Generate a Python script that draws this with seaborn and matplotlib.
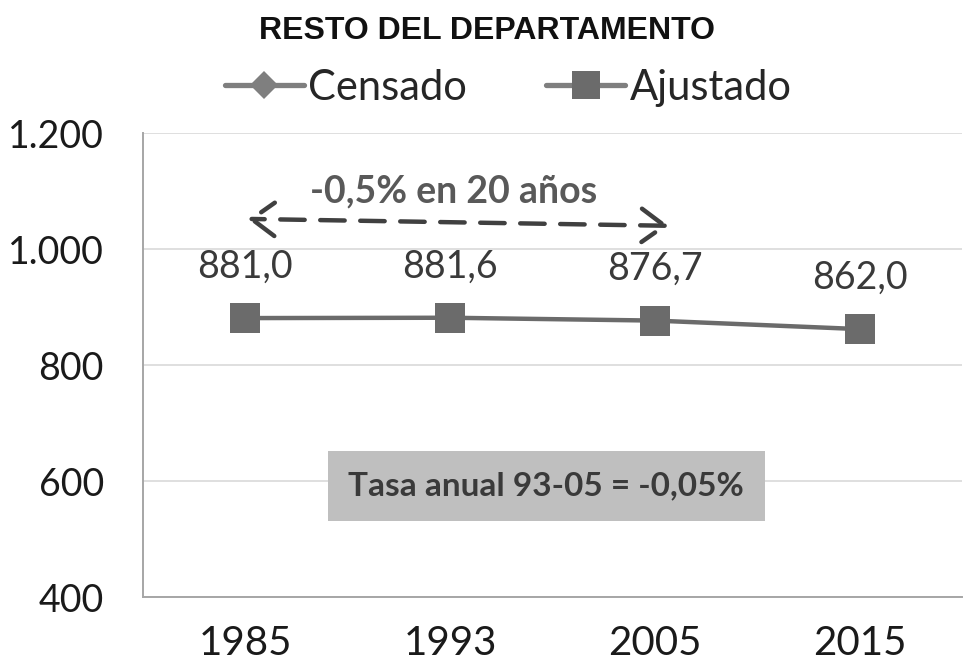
import matplotlib
matplotlib.use("Agg")
import matplotlib.pyplot as plt
import matplotlib.ticker as mticker
from matplotlib.lines import Line2D
import seaborn as sns
import pandas as pd

years = ["1985", "1993", "2005", "2015"]
ajustado = [881.0, 881.6, 876.7, 862.0]
value_labels = ["881,0", "881,6", "876,7", "862,0"]
y_ticks = [400, 600, 800, 1000, 1200]

sns.set_style("white")
plt.rcParams["font.family"] = ["Lato", "DejaVu Sans"]

data = pd.DataFrame({"pos": range(len(years)), "Ajustado": ajustado})

fig = plt.figure(figsize=(9.64, 6.65), dpi=100)
ax = fig.add_axes([0.148, 0.102, 0.85, 0.698])

line_col = "#6b6b6b"
sns.lineplot(data=data, x="pos", y="Ajustado", ax=ax, color=line_col,
             linewidth=3.2, marker="s", markersize=22, markeredgewidth=0,
             markerfacecolor=line_col)

for i, v in enumerate(ajustado):
    ax.annotate(value_labels[i], (i, v), xytext=(0, 37), textcoords="offset points",
                ha="center", va="center", fontsize=27, color="#3a3a3a")

ax.set_xlim(-0.5, 3.5)
ax.set_ylim(400, 1200)
ax.set_yticks(y_ticks)
ax.yaxis.set_major_formatter(mticker.FuncFormatter(lambda v, p: f"{int(v):,}".replace(",", ".")))
ax.set_xticks([-0.5, 0.5, 1.5, 2.5, 3.5])
ax.set_xticklabels([])
ax.set_xticks(range(len(years)), minor=True)
ax.set_xticklabels(years, minor=True)
ax.tick_params(axis="x", which="major", direction="out", length=7, width=1.2, color="#a6a6a6")
ax.tick_params(axis="x", which="minor", length=0, pad=20, labelsize=29, labelcolor="#1a1a1a")
ax.tick_params(axis="y", direction="out", length=8, width=1.2, color="#a6a6a6",
               labelsize=27, labelcolor="#1a1a1a", pad=20)
ax.set_xlabel("")
ax.set_ylabel("")
ax.grid(axis="y", color="#d9d9d9", linewidth=1.2)
ax.set_axisbelow(True)
sns.despine(ax=ax)
for s in ["left", "bottom"]:
    ax.spines[s].set_color("#a6a6a6")
    ax.spines[s].set_linewidth(1.4)

# dashed double arrow
ax.annotate("", xy=(0.0, 1052), xytext=(2.08, 1040),
            arrowprops=dict(arrowstyle="<->,head_length=0.55,head_width=0.4",
                            linestyle=(0, (5.5, 3.5)), color="#404040",
                            lw=3.2, mutation_scale=30))
ax.text(1.02, 1100, "-0,5% en 20 años", ha="center", va="center", fontsize=27,
        color="#595959", fontweight="bold")

ax.text(1.47, 592, "Tasa anual 93-05 = -0,05%", ha="center", va="center", fontsize=24,
        color="#3a3a3a", fontweight="bold",
        bbox=dict(boxstyle="square,pad=0.62", facecolor="#bfbfbf", edgecolor="none"))

fig.text(0.505, 0.953, "RESTO DEL DEPARTAMENTO", ha="center", va="center", fontsize=23,
         fontweight="bold", family=["Liberation Sans Narrow", "Liberation Sans"], color="#111111")

handles = [
    Line2D([], [], color="#7f7f7f", linewidth=3.8, marker="D", markersize=14,
           markerfacecolor="#7f7f7f", markeredgewidth=0),
    Line2D([], [], color="#7f7f7f", linewidth=3.8, marker="s", markersize=20,
           markerfacecolor="#6b6b6b", markeredgewidth=0),
]
fig.legend(handles, ["Censado", "Ajustado"], loc="center", bbox_to_anchor=(0.527, 0.868),
           ncol=2, frameon=False, fontsize=30, handlelength=1.9, handletextpad=0.1,
           columnspacing=1.9)

fig.savefig("out.png", dpi=100)
